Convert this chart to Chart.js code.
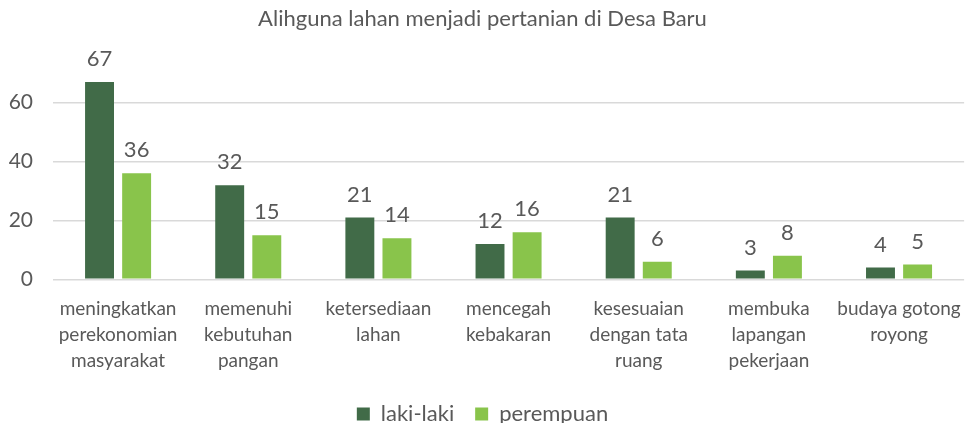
<!DOCTYPE html>
<html>
<head>
<meta charset="utf-8">
<script src="https://cdn.jsdelivr.net/npm/chart.js@4"></script>
<style>
  body { margin: 0; background: #fff; }
  #wrap { width: 969px; height: 423px; }
</style>
</head>
<body>
<div id="wrap"><canvas id="chart" width="969" height="423"></canvas></div>
<script>
// categories, one array of lines per label
const categories = [
  ["meningkatkan", "perekonomian", "masyarakat"],
  ["memenuhi", "kebutuhan", "pangan"],
  ["ketersediaan", "lahan"],
  ["mencegah", "kebakaran"],
  ["kesesuaian", "dengan tata", "ruang"],
  ["membuka", "lapangan", "pekerjaan"],
  ["budaya gotong", "royong"]
];
const lakiLaki = [67, 32, 21, 12, 21, 3, 4];
const perempuan = [36, 15, 14, 16, 6, 8, 5];
const yTicks = [0, 20, 40, 60];

const textColor = "#595959";
const fontFamily = "Lato, 'Open Sans', sans-serif";

// value labels above each bar
const barLabels = {
  id: "barLabels",
  afterDatasetsDraw(chart) {
    const ctx = chart.ctx;
    ctx.save();
    ctx.fillStyle = textColor;
    ctx.font = "22px " + fontFamily;
    ctx.textAlign = "center";
    ctx.textBaseline = "alphabetic";
    chart.data.datasets.forEach((ds, i) => {
      chart.getDatasetMeta(i).data.forEach((bar, j) => {
        ctx.fillText(ds.data[j], bar.x, bar.y - 16);
      });
    });
    ctx.restore();
  }
};

const ctx = document.getElementById("chart").getContext("2d");
new Chart(ctx, {
  type: "bar",
  data: {
    labels: categories,
    datasets: [
      { label: "laki-laki", data: lakiLaki, backgroundColor: "#416B48" },
      { label: "perempuan", data: perempuan, backgroundColor: "#89C44B" }
    ]
  },
  options: {
    responsive: false,
    animation: false,
    layout: { padding: { left: 0, right: 4, top: 0, bottom: -12 } },
    datasets: {
      bar: { categoryPercentage: 0.57, barPercentage: 0.78 }
    },
    scales: {
      x: {
        grid: { display: false },
        border: { display: false },
        ticks: {
          color: textColor,
          font: { family: fontFamily, size: 19, lineHeight: 1.38 },
          maxRotation: 0,
          autoSkip: false,
          padding: 8
        }
      },
      y: {
        min: 0,
        max: 72,
        afterBuildTicks(scale) {
          scale.ticks = yTicks.map(v => ({ value: v }));
        },
        afterFit(scale) {
          scale.width = 53;
        },
        grid: { color: "#d9d9d9", lineWidth: 1.5, drawTicks: false },
        border: { display: false },
        ticks: {
          color: textColor,
          font: { family: fontFamily, size: 21 },
          padding: 20
        }
      }
    },
    plugins: {
      title: {
        display: true,
        text: "Alihguna lahan menjadi pertanian di Desa Baru",
        color: textColor,
        font: { family: fontFamily, size: 22, weight: "normal" },
        padding: { top: 6, bottom: 35 }
      },
      legend: {
        position: "bottom",
        labels: {
          color: textColor,
          font: { family: fontFamily, size: 22 },
          boxWidth: 13,
          boxHeight: 13,
          padding: 21
        }
      },
      tooltip: { enabled: false }
    }
  },
  plugins: [barLabels]
});
</script>
</body>
</html>
